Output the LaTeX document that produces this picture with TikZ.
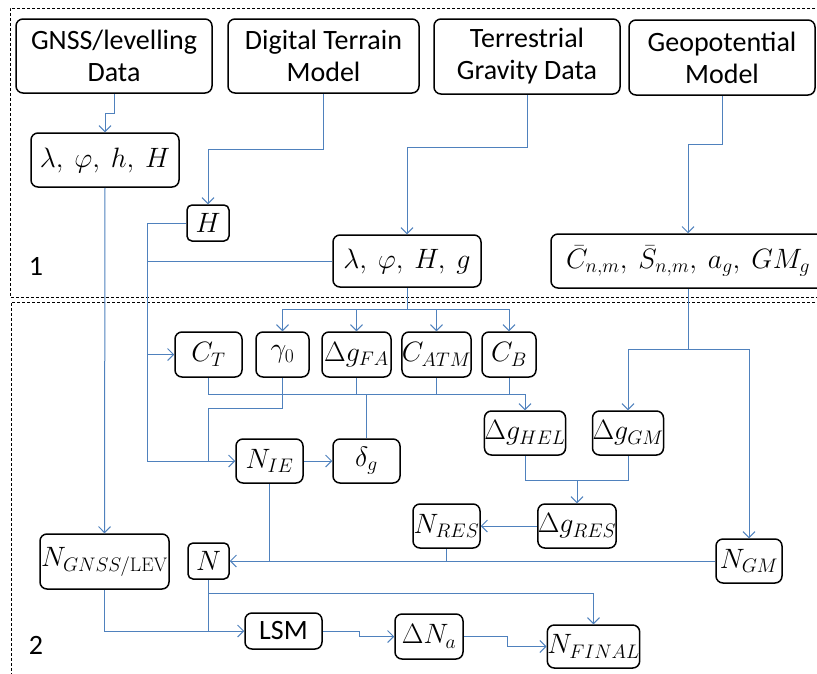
\RequirePackage{fix-cm}
\documentclass[tikz,border=0pt]{standalone}
\usepackage[no-math]{fontspec}
\setmainfont{Carlito}
\usetikzlibrary{
    arrows.meta,
    calc
}
\definecolor{flowblue}{RGB}{79,129,189}
\tikzset {
    box/.style = {draw, line width = 1.5pt, rounded corners = 7pt, inner sep = 0pt, align = center},
    dims/.style 2 args = {minimum width = #1pt, minimum height = #2pt},
    link/.style = {draw = flowblue, line width = 1pt},
    linkarrow/.style = {link, -{Straight Barb[length = 6pt, width = 12pt]}},
    groupframe/.style = {densely dashed, line width = 0.7pt},
}

\begin{document}
\begin{tikzpicture}[x = 1pt, y = -1pt, font = \fontsize{28}{32}\selectfont]
    \useasboundingbox (0, 0) rectangle (817, 673);
    % the two groups
    \draw [groupframe] (830, 8) -- (10, 8) -- (10, 297) -- (830, 297);
    \draw [groupframe] (830, 302) -- (11, 302) -- (11, 690);
    \node (one) at (36, 266) {1};
    \node (two) at (36, 645) {2};

    % input data
    \node (gnss) [box, dims = {196}{74}] at (114, 56) {GNSS/levelling\\Data};
    \node (dtm)  [box, dims = {191}{74}] at (323.5, 56) {Digital Terrain\\Model};
    \node (tgd)  [box, dims = {186}{75}] at (527, 56.5) {Terrestrial\\Gravity Data};
    \node (gpm)  [box, dims = {186}{75}] at (722, 57.5) {Geopotential\\Model};

    \node (llhH) [box, dims = {148}{54}] at (105, 160) {$\lambda,\ \varphi,\ h,\ H$};
    \node (hdtm) [box, dims = {42}{36}, rounded corners = 5pt] at (208, 223) {$H$};
    \node (llHg) [box, dims = {148}{52}] at (407, 261) {$\lambda,\ \varphi,\ H,\ g$};
    \node (coef) [box, dims = {274}{54}] at (688, 261)
        {$\bar{C}_{n,m},\ \bar{S}_{n,m},\ a_g,\ GM_g$};

    % reductions
    \node (ct)     [box, dims = {67}{45}] at (208.5, 354.5) {$C_T$};
    \node (gamma)  [box, dims = {53}{45}] at (282.5, 354.5) {$\gamma_0$};
    \node (dgfa)   [box, dims = {69}{45}] at (356.5, 354.5) {$\Delta g_{FA}$};
    \node (catm)   [box, dims = {67}{45}] at (436.5, 354.5) {$C_{ATM}$};
    \node (cb)     [box, dims = {54}{45}] at (509, 354.5) {$C_B$};

    \node (nie)    [box, dims = {67}{44}] at (269.5, 461) {$N_{IE}$};
    \node (deltag) [box, dims = {67}{44}] at (366.5, 461) {$\delta_g$};
    \node (dghel)  [box, dims = {78}{44}] at (525, 433) {$\Delta g_{HEL}$};
    \node (dggm)   [box, dims = {70}{44}] at (628, 433) {$\Delta g_{GM}$};
    \node (nres)   [box, dims = {67}{44}] at (446.5, 526) {$N_{RES}$};
    \node (dgres)  [box, dims = {78}{44}] at (577, 526) {$\Delta g_{RES}$};
    \node (ngm)    [box, dims = {66}{44}] at (749, 561) {$N_{GM}$};

    \node (ngnss)  [box, dims = {129}{55}] at (104.5, 561.5) {$N_{GNSS/\mathrm{LEV}}$};
    \node (n)      [box, dims = {41}{36}, rounded corners = 5pt] at (208.5, 561) {$N$};
    \node (lsm)    [box, dims = {77}{36}] at (283.5, 631) {LSM};
    \node (dna)    [box, dims = {68}{45}] at (429, 636.5) {$\Delta N_a$};
    \node (nfinal) [box, dims = {89}{43}] at (593.5, 646.5) {$N_{FINAL}$};

    % bus points
    \coordinate (hbus) at (147, 223);
    \coordinate (gbus) at (407, 309);
    \coordinate (cbus) at (525, 394);
    \coordinate (mbus) at (688, 349);
    \coordinate (rbus) at (577, 480);
    \coordinate (nbus) at (208.5, 593);

    % section 1
    \draw [linkarrow] (gnss.south) -- ++(0, 20) -| (llhH.north);
    \draw [linkarrow] (dtm.south) -- ++(0, 56) -| (hdtm.north);
    \draw [linkarrow] (tgd.south) -- ++(0, 53) -| (llHg.north);
    \draw [linkarrow] (gpm.south) -- ++(0, 49) -| (coef.north);

    % heights and gravity into section 2
    \draw [linkarrow] (hdtm.west) -- (hbus) |- (nie.west);
    \draw [linkarrow] (hbus |- ct.west) -- (ct.west);
    \draw [link] (llHg.west) -- (hbus |- llHg.west);
    \draw [link] (llHg.south) -- (gbus);
    \foreach \n in {gamma, dgfa, catm, cb}
        \draw [linkarrow] (gbus) -| (\n.north);

    \foreach \n in {ct, dgfa, catm, cb}
        \draw [link] (\n.south) |- (cbus);
    \draw [link] (deltag.north) |- (cbus);
    \draw [linkarrow] (cbus) -- (dghel.north);
    \draw [link] (gamma.south) -- ++(0, 31) -| (ct.south |- nie.west);
    \draw [linkarrow] (nie.east) -- (deltag.west);

    % geopotential model
    \draw [link] (coef.south) -- (mbus);
    \draw [linkarrow] (mbus) -| (dggm.north);
    \draw [linkarrow] (mbus) -| (ngm.north);
    \draw [link] (dghel.south) |- (rbus);
    \draw [link] (dggm.south) |- (rbus);
    \draw [linkarrow] (rbus) -- (dgres.north);
    \draw [linkarrow] (dgres.west) -- (nres.east);

    % geoid heights
    \draw [linkarrow] (ngm.west) -- (n.east);
    \draw [link] (nres.south) -- (nres.south |- n.east);
    \draw [link] (nie.south) -- (nie.south |- n.east);
    \draw [linkarrow] (llhH.south) -- (ngnss.north);
    \draw [link] (n.south) -- (n.south |- lsm.west);
    \draw [linkarrow] (nbus) -| (nfinal.north);
    \draw [linkarrow] (ngnss.south) |- (lsm.west);
    \draw [linkarrow] (lsm.east) -- ++(37, 0) |- (dna.west);
    \draw [linkarrow] (dna.east) -- ++(44, 0) |- (nfinal.west);
\end{tikzpicture}
\end{document}
